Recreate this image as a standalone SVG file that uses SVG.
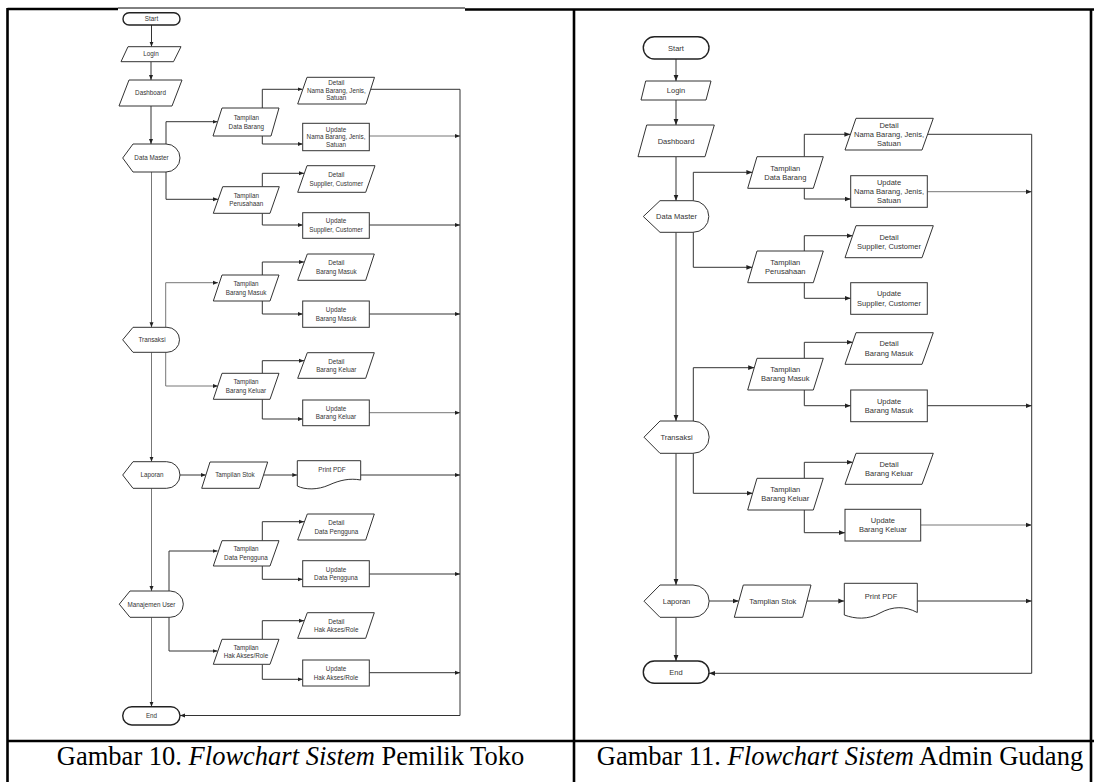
<svg xmlns="http://www.w3.org/2000/svg" width="1094" height="782" viewBox="0 0 1094 782">
<style>
.bg{fill:#fff}
.sh{fill:#fff;stroke:#333;stroke-width:1}
.term{fill:#fff;stroke:#222;stroke-width:1.4}
.c{fill:none;stroke:#333;stroke-width:1}
.cl{fill:none;stroke:#777;stroke-width:1}
.tl{font-family:"Liberation Sans",Arial,sans-serif;font-size:6.3px;fill:#333;text-anchor:middle}
.tr{font-family:"Liberation Sans",Arial,sans-serif;font-size:7.5px;fill:#333;text-anchor:middle}
.cap{font-family:"Liberation Serif","Times New Roman",serif;font-size:26.5px;fill:#000;text-anchor:middle}
.tb{stroke:#000;stroke-width:2.6;fill:none}
</style>
<defs>
<marker id="aS" markerUnits="userSpaceOnUse" markerWidth="5" markerHeight="5" viewBox="0 0 10 10" refX="10" refY="5" orient="auto"><path d="M0,1 L10,5 L0,9 Z" fill="#222"/></marker>
<marker id="aL" markerUnits="userSpaceOnUse" markerWidth="6" markerHeight="6" viewBox="0 0 10 10" refX="10" refY="5" orient="auto"><path d="M0,1 L10,5 L0,9 Z" fill="#222"/></marker>
</defs>
<rect class="bg" x="0" y="0" width="1094" height="782"/>

<g id="table">
<path class="tb" d="M7.5,9 H118 M465,9.5 H1094"/>
<path d="M118,8 H465" stroke="#000" stroke-width="1"/>
<path class="tb" d="M7.5,8 V782 M574,9 V782 M1091,9 V782 M7.5,741 H1094"/>
</g>

<g id="captions">
<text class="cap" x="290.5" y="765">Gambar 10. <tspan font-style="italic">Flowchart Sistem</tspan> Pemilik Toko</text>
<text class="cap" x="840" y="765">Gambar 11. <tspan font-style="italic">Flowchart Sistem</tspan> Admin Gudang</text>
</g>

<!-- LEFT FLOWCHART -->
<g id="left-connectors">
<path class="c" marker-end="url(#aS)" d="M151.5,25 V46.7"/>
<path class="c" marker-end="url(#aS)" d="M151,61.7 V80"/>
<path class="c" marker-end="url(#aS)" d="M151,106 V144"/>
<path class="c" marker-end="url(#aS)" d="M166,144 V121.7 H217.5"/>
<path class="c" marker-end="url(#aS)" d="M262.3,108 V89.3 H302.5"/>
<path class="c" marker-end="url(#aS)" d="M262.3,136 V144 H302.7"/>
<path class="cl" marker-end="url(#aS)" d="M369.3,136 H460"/>
<path class="c" marker-end="url(#aS)" d="M370.5,89.3 H460 V715.5 H180"/>
<path class="c" marker-end="url(#aS)" d="M166,172 V199.3 H218"/>
<path class="c" marker-end="url(#aS)" d="M262.3,186.7 V173.3 H304"/>
<path class="c" marker-end="url(#aS)" d="M262.3,213.3 V225 H302.7"/>
<path class="c" marker-end="url(#aS)" d="M369.3,225 H460"/>
<path class="cl" marker-end="url(#aS)" d="M151.5,172 V327.3"/>
<path class="cl" marker-end="url(#aS)" d="M165.7,327.3 V282.7 H218"/>
<path class="c" marker-end="url(#aS)" d="M262.3,275 V262 H304"/>
<path class="c" marker-end="url(#aS)" d="M262.3,301 V314 H302.7"/>
<path class="c" marker-end="url(#aS)" d="M369.3,314 H460"/>
<path class="cl" marker-end="url(#aS)" d="M165.7,352.3 V386 H218"/>
<path class="c" marker-end="url(#aS)" d="M262.3,373.3 V360.7 H304"/>
<path class="c" marker-end="url(#aS)" d="M262.3,399.3 V419 H302.7"/>
<path class="cl" marker-end="url(#aS)" d="M369.3,412.7 H460"/>
<path class="cl" marker-end="url(#aS)" d="M151.5,352.3 V461.7"/>
<path class="c" marker-end="url(#aS)" d="M180,475 H205.8"/>
<path class="c" marker-end="url(#aS)" d="M263.5,475 H297.3"/>
<path class="c" marker-end="url(#aS)" d="M360.7,475 H460"/>
<path class="cl" marker-end="url(#aS)" d="M151.5,488.3 V591"/>
<path class="c" marker-end="url(#aS)" d="M169,591 V551 H217.5"/>
<path class="c" marker-end="url(#aS)" d="M262.3,540.7 V521.7 H304"/>
<path class="c" marker-end="url(#aS)" d="M262.3,566 V579.3 H302.7"/>
<path class="c" marker-end="url(#aS)" d="M369.3,574 H460"/>
<path class="c" marker-end="url(#aS)" d="M169,617.3 V651 H217.5"/>
<path class="c" marker-end="url(#aS)" d="M262.3,639.3 V620.7 H304"/>
<path class="c" marker-end="url(#aS)" d="M262.3,664.3 V679.3 H302.7"/>
<path class="c" marker-end="url(#aS)" d="M369.3,672.7 H460"/>
<path class="cl" marker-end="url(#aS)" d="M151.5,617.3 V706.7"/>
</g>

<g id="L-start"><rect class="term" x="123" y="12.8" width="57" height="12.2" rx="6.1"/><text class="tl" x="151.5" y="21.2">Start</text></g>
<g id="L-login"><polygon class="sh" points="128,46.7 181,46.7 173.5,61.7 121,61.7"/><text class="tl" x="151" y="56.4">Login</text></g>
<g id="L-dashboard"><polygon class="sh" points="129,80 182,80 172,106 119,106"/><text class="tl" x="150.5" y="95.2">Dashboard</text></g>
<g id="L-datamaster"><path class="sh" d="M133,144 H166 A14,14 0 0 1 166,172 H133 L122.7,158 Z"/><text class="tl" x="151.5" y="160.2">Data Master</text></g>
<g id="L-tdb"><polygon class="sh" points="222,108 279,108 271,136 213,136"/><text class="tl" x="246.3" y="120.2">Tampilan</text><text class="tl" x="246.3" y="129.2">Data Barang</text></g>
<g id="L-dnb"><polygon class="sh" points="307,77.3 374.5,77.3 366,104 297.7,104"/><text class="tl" x="336.3" y="85.2">Detail</text><text class="tl" x="336.3" y="92.7">Nama Barang, Jenis,</text><text class="tl" x="336.3" y="100.2">Satuan</text></g>
<g id="L-unb"><rect class="sh" x="302.7" y="123.3" width="66.6" height="27.4"/><text class="tl" x="336" y="131.7">Update</text><text class="tl" x="336" y="139.2">Nama Barang, Jenis,</text><text class="tl" x="336" y="146.7">Satuan</text></g>
<g id="L-tp"><polygon class="sh" points="222.7,186.7 279.3,186.7 270,213.3 213.3,213.3"/><text class="tl" x="246.3" y="197.7">Tampilan</text><text class="tl" x="246.3" y="206.2">Perusahaan</text></g>
<g id="L-ds"><polygon class="sh" points="307,165.7 375,165.7 365.7,192.3 297.7,192.3"/><text class="tl" x="336.3" y="177.2">Detail</text><text class="tl" x="336.3" y="185.7">Supplier, Customer</text></g>
<g id="L-us"><rect class="sh" x="302.7" y="212.7" width="66.6" height="25.6"/><text class="tl" x="336" y="223.2">Update</text><text class="tl" x="336" y="232.2">Supplier, Customer</text></g>
<g id="L-transaksi"><path class="sh" d="M133,327.3 H167 A12.5,12.5 0 0 1 167,352.3 H133 L122.7,339.8 Z"/><text class="tl" x="152" y="342.2">Transaksi</text></g>
<g id="L-tbm"><polygon class="sh" points="222,275 279,275 270,301 213.3,301"/><text class="tl" x="246" y="286.2">Tampilan</text><text class="tl" x="246" y="294.7">Barang Masuk</text></g>
<g id="L-dbm"><polygon class="sh" points="307.3,254 374.3,254 365.7,280.3 297.7,280.3"/><text class="tl" x="336.3" y="265.2">Detail</text><text class="tl" x="336.3" y="273.7">Barang Masuk</text></g>
<g id="L-ubm"><rect class="sh" x="302.7" y="301" width="66.6" height="26.3"/><text class="tl" x="336" y="312.2">Update</text><text class="tl" x="336" y="320.7">Barang Masuk</text></g>
<g id="L-tbk"><polygon class="sh" points="222,373.3 279,373.3 270,399.3 213.3,399.3"/><text class="tl" x="246" y="384.2">Tampilan</text><text class="tl" x="246" y="392.7">Barang Keluar</text></g>
<g id="L-dbk"><polygon class="sh" points="307.3,352.7 374.3,352.7 365.7,378.3 297.7,378.3"/><text class="tl" x="336.3" y="363.5">Detail</text><text class="tl" x="336.3" y="372">Barang Keluar</text></g>
<g id="L-ubk"><rect class="sh" x="302.7" y="400" width="66.6" height="25.7"/><text class="tl" x="336" y="410.7">Update</text><text class="tl" x="336" y="419.2">Barang Keluar</text></g>
<g id="L-laporan"><path class="sh" d="M133,461.7 H166.7 A13.3,13.3 0 0 1 166.7,488.3 H133 L122.7,475 Z"/><text class="tl" x="152" y="477.2">Laporan</text></g>
<g id="L-stok"><polygon class="sh" points="210,462 267.7,462 259.3,488.3 201.7,488.3"/><text class="tl" x="235" y="477.2">Tampilan Stok</text></g>
<g id="L-pdf"><path class="sh" d="M297.3,460.7 H360.7 V480 C350,478 340,480 329,485 C318,490 305,490 297.3,486 Z"/><text class="tl" x="332" y="472.2">Print PDF</text></g>
<g id="L-mu"><path class="sh" d="M130,591 H170.2 A13.15,13.15 0 0 1 170.2,617.3 H130 L119.3,604.2 Z"/><text class="tl" x="151.5" y="606.7">Manajemen User</text></g>
<g id="L-tdp"><polygon class="sh" points="222,540.7 279,540.7 270,566 213.3,566"/><text class="tl" x="246" y="551.2">Tampilan</text><text class="tl" x="246" y="559.7">Data Pengguna</text></g>
<g id="L-ddp"><polygon class="sh" points="307.3,514 374.3,514 365.7,540 297.7,540"/><text class="tl" x="336.3" y="525">Detail</text><text class="tl" x="336.3" y="533.5">Data Pengguna</text></g>
<g id="L-udp"><rect class="sh" x="302.7" y="560.7" width="66.6" height="26"/><text class="tl" x="336" y="571.7">Update</text><text class="tl" x="336" y="580.2">Data Pengguna</text></g>
<g id="L-tha"><polygon class="sh" points="222,639.3 279,639.3 270,664.3 213.3,664.3"/><text class="tl" x="246" y="649.7">Tampilan</text><text class="tl" x="246" y="658.2">Hak Akses/Role</text></g>
<g id="L-dha"><polygon class="sh" points="307.3,612.7 374.3,612.7 365.7,638.3 297.7,638.3"/><text class="tl" x="336.3" y="623.5">Detail</text><text class="tl" x="336.3" y="632">Hak Akses/Role</text></g>
<g id="L-uha"><rect class="sh" x="302.7" y="660" width="66.6" height="26"/><text class="tl" x="336" y="671">Update</text><text class="tl" x="336" y="679.5">Hak Akses/Role</text></g>
<g id="L-end"><rect class="term" x="122.7" y="706.7" width="57.3" height="18.3" rx="9.15"/><text class="tl" x="151.5" y="718">End</text></g>

<!-- RIGHT FLOWCHART -->
<g id="right-connectors">
<path class="c" marker-end="url(#aL)" d="M676,59 V81"/>
<path class="c" marker-end="url(#aL)" d="M676,100 V125"/>
<path class="c" marker-end="url(#aL)" d="M676,156.7 V200.7"/>
<path class="c" marker-end="url(#aL)" d="M693.3,200.7 V172.3 H752.4"/>
<path class="c" marker-end="url(#aL)" d="M804.3,156.7 V134.3 H850.4"/>
<path class="c" marker-end="url(#aL)" d="M804.3,188.3 V199 H850.7"/>
<path class="cl" marker-end="url(#aL)" d="M927.3,191.7 H1031.7"/>
<path class="c" marker-end="url(#aL)" d="M927.6,134.3 H1031.7 V673.3 H709"/>
<path class="c" marker-end="url(#aL)" d="M693.3,232.3 V267.3 H752.4"/>
<path class="c" marker-end="url(#aL)" d="M804.3,251 V235.7 H852.6"/>
<path class="c" marker-end="url(#aL)" d="M804.3,282.7 V298.3 H850.7"/>
<path class="c" marker-end="url(#aL)" d="M676,232.3 V421"/>
<path class="c" marker-end="url(#aL)" d="M693.3,421 V367.7 H754.2"/>
<path class="c" marker-end="url(#aL)" d="M804.3,358.3 V342.3 H852.7"/>
<path class="c" marker-end="url(#aL)" d="M804.3,390 V405.7 H850.7"/>
<path class="c" marker-end="url(#aL)" d="M927.3,405.7 H1031.7"/>
<path class="c" marker-end="url(#aL)" d="M693.3,453.3 V493.3 H752.6"/>
<path class="c" marker-end="url(#aL)" d="M804.3,478.3 V462.3 H852.8"/>
<path class="c" marker-end="url(#aL)" d="M804.3,510 V532.7 H845"/>
<path class="cl" marker-end="url(#aL)" d="M920.7,525 H1031.7"/>
<path class="c" marker-end="url(#aL)" d="M676,453.3 V585"/>
<path class="c" marker-end="url(#aL)" d="M709,601 H738.8"/>
<path class="c" marker-end="url(#aL)" d="M807,601 H844.3"/>
<path class="c" marker-end="url(#aL)" d="M917.3,601 H1031.7"/>
<path class="c" marker-end="url(#aL)" d="M676,617.3 V661"/>
</g>

<g id="R-start"><rect class="term" x="643.3" y="36.7" width="65.7" height="22.3" rx="11.15"/><text class="tr" x="676" y="50.6">Start</text></g>
<g id="R-login"><polygon class="sh" points="645.7,81 711,81 706,100 641,100"/><text class="tr" x="676" y="93.1">Login</text></g>
<g id="R-dashboard"><polygon class="sh" points="646.7,125 714.3,125 705,156.7 638,156.7"/><text class="tr" x="676" y="143.6">Dashboard</text></g>
<g id="R-datamaster"><path class="sh" d="M660,200.7 H693 A15.8,15.8 0 0 1 693,232.3 H660 L643.3,216.5 Z"/><text class="tr" x="676.5" y="219.1">Data Master</text></g>
<g id="R-tdb"><polygon class="sh" points="757,156.7 823.3,156.7 813.3,188.3 747.7,188.3"/><text class="tr" x="785.3" y="170.6">Tamplian</text><text class="tr" x="785.3" y="179.9">Data Barang</text></g>
<g id="R-dnb"><polygon class="sh" points="856,118.3 933.3,118.3 922,150 845,150"/><text class="tr" x="889" y="127.5">Detail</text><text class="tr" x="889" y="136.8">Nama Barang, Jenis,</text><text class="tr" x="889" y="146.1">Satuan</text></g>
<g id="R-unb"><rect class="sh" x="850.7" y="175.7" width="76.6" height="31.6"/><text class="tr" x="889" y="184.8">Update</text><text class="tr" x="889" y="194.1">Nama Barang, Jenis,</text><text class="tr" x="889" y="203.4">Satuan</text></g>
<g id="R-tp"><polygon class="sh" points="757,251 823.3,251 813.3,282.7 747.7,282.7"/><text class="tr" x="785.3" y="264.8">Tamplian</text><text class="tr" x="785.3" y="274.1">Perusahaan</text></g>
<g id="R-ds"><polygon class="sh" points="856,225.7 933.3,225.7 922,257.7 845,257.7"/><text class="tr" x="889" y="239.6">Detail</text><text class="tr" x="889" y="248.9">Supplier, Customer</text></g>
<g id="R-us"><rect class="sh" x="850.7" y="282.7" width="76.6" height="31.6"/><text class="tr" x="889" y="296.4">Update</text><text class="tr" x="889" y="305.7">Supplier, Customer</text></g>
<g id="R-transaksi"><path class="sh" d="M660,421 H693 A16.15,16.15 0 0 1 693,453.3 H660 L644,437.2 Z"/><text class="tr" x="676.5" y="439.8">Transaksi</text></g>
<g id="R-tbm"><polygon class="sh" points="757,358.3 823.3,358.3 813.3,390 747.7,390"/><text class="tr" x="785.3" y="372.1">Tamplian</text><text class="tr" x="785.3" y="381.4">Barang Masuk</text></g>
<g id="R-dbm"><polygon class="sh" points="856,332.7 933.3,332.7 922,364.3 845,364.3"/><text class="tr" x="889" y="346.4">Detail</text><text class="tr" x="889" y="355.7">Barang Masuk</text></g>
<g id="R-ubm"><rect class="sh" x="850.7" y="390" width="76.6" height="31.7"/><text class="tr" x="889" y="403.7">Update</text><text class="tr" x="889" y="413">Barang Masuk</text></g>
<g id="R-tbk"><polygon class="sh" points="757,478.3 823.3,478.3 813.3,510 747.7,510"/><text class="tr" x="785.3" y="492.1">Tamplian</text><text class="tr" x="785.3" y="501.4">Barang Keluar</text></g>
<g id="R-dbk"><polygon class="sh" points="856,453.3 933.3,453.3 922,484.3 845,484.3"/><text class="tr" x="889" y="466.7">Detail</text><text class="tr" x="889" y="476">Barang Keluar</text></g>
<g id="R-ubk"><rect class="sh" x="845" y="509.3" width="75.7" height="31.7"/><text class="tr" x="882.9" y="523.1">Update</text><text class="tr" x="882.9" y="532.4">Barang Keluar</text></g>
<g id="R-laporan"><path class="sh" d="M660,585 H693 A16.15,16.15 0 0 1 693,617.3 H660 L644,601.2 Z"/><text class="tr" x="676.5" y="603.6">Laporan</text></g>
<g id="R-stok"><polygon class="sh" points="743.3,585 811,585 802.7,617.3 734.3,617.3"/><text class="tr" x="772.8" y="603.6">Tamplian Stok</text></g>
<g id="R-pdf"><path class="sh" d="M844.3,583.3 H917.3 V612.5 C905,606 893,606 880,613 C868,620 855,619 844.3,615 Z"/><text class="tr" x="881" y="599.3">Print PDF</text></g>
<g id="R-end"><rect class="term" x="643.3" y="661" width="65.7" height="22.3" rx="11.15"/><text class="tr" x="676" y="674.8">End</text></g>
</svg>
